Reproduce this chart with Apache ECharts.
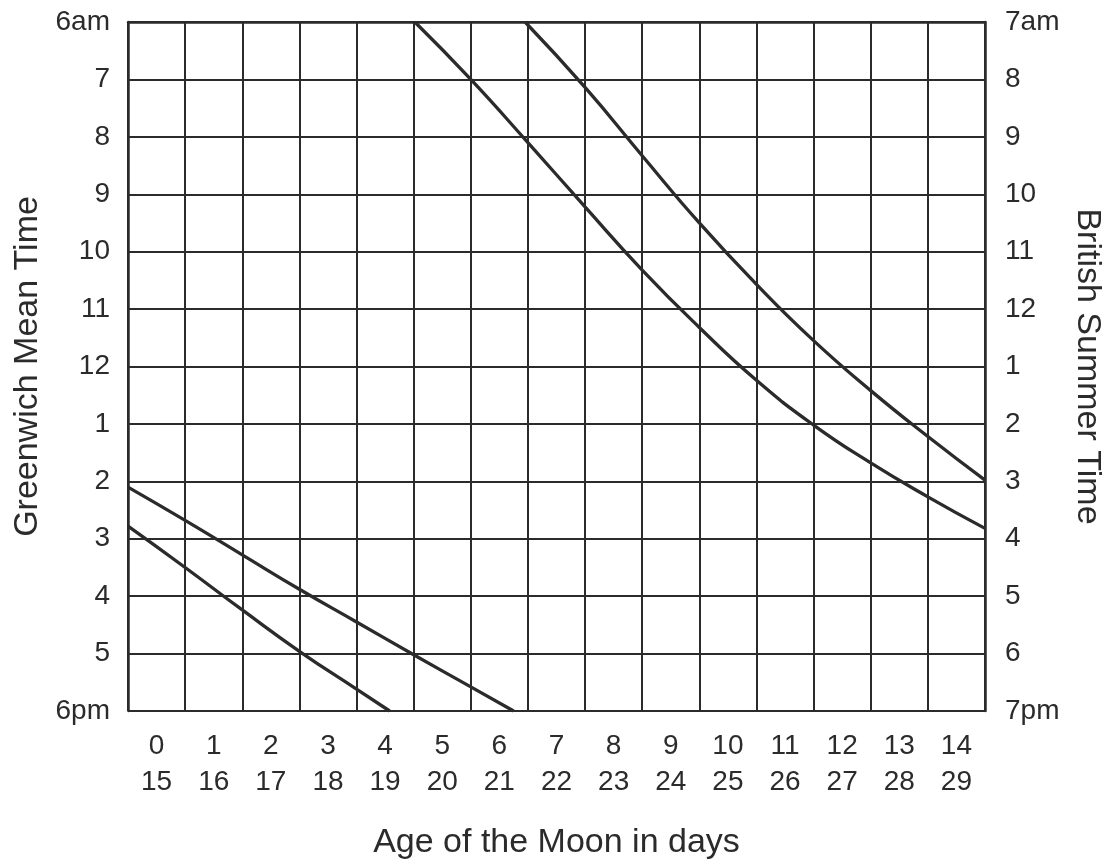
<!DOCTYPE html>
<html>
<head>
<meta charset="utf-8">
<title>Age of the Moon</title>
<script src="https://cdn.jsdelivr.net/npm/echarts@6/dist/echarts.min.js"></script>
<style>
    html, body { margin: 0; padding: 0; background: #fff; }
    #chart { width: 1106px; height: 868px; }
</style>
</head>
<body>
<div id="chart"></div>
<script>
// day labels, two rows (0-14 over 15-29)
var dayTop = ['0', '1', '2', '3', '4', '5', '6', '7', '8', '9', '10', '11', '12', '13', '14'];
var dayBottom = ['15', '16', '17', '18', '19', '20', '21', '22', '23', '24', '25', '26', '27', '28', '29'];

// hours counted from 6am GMT (0) down to 6pm (12)
var gmtLabels = ['6am', '7', '8', '9', '10', '11', '12', '1', '2', '3', '4', '5', '6pm'];
var bstLabels = ['7am', '8', '9', '10', '11', '12', '1', '2', '3', '4', '5', '6', '7pm'];

// [day, hours after 6am]
var curveA = [[5.02, 0], [6, 1.0], [7, 2.1], [8, 3.22], [9, 4.32], [10, 5.32], [11, 6.24], [12, 7.02], [13, 7.68], [14, 8.27], [15, 8.82]];
var curveB = [[6.95, 0], [8, 1.14], [9, 2.33], [10, 3.5], [11, 4.57], [12, 5.55], [13, 6.42], [14, 7.22], [15, 7.98]];
var curveC = [[0, 8.1], [1, 8.68], [2, 9.28], [3, 9.88], [4, 10.45], [5, 11.02], [6, 11.58], [6.75, 12]];
var curveD = [[0, 8.78], [1, 9.5], [2, 10.24], [3, 10.96], [4, 11.62], [4.58, 12]];

var ink = '#2b2b2b';
var font = 'Liberation Sans';

var myChart = echarts.init(document.getElementById('chart'));

function curve(data) {
    return {
        type: 'line',
        xAxisIndex: 0,
        yAxisIndex: 0,
        data: data,
        smooth: 0.5,
        showSymbol: false,
        silent: true,
        lineStyle: { color: ink, width: 3.3 }
    };
}

var option = {
    backgroundColor: '#fff',
    animation: false,
    grid: { left: 128, right: 121, top: 22, bottom: 157, outerBoundsMode: 'none', containLabel: false },
    xAxis: [
        {
            type: 'value',
            min: 0,
            max: 15,
            interval: 1,
            position: 'bottom',
            axisLine: { show: true, lineStyle: { color: ink, width: 2.5 } },
            axisTick: { show: false },
            axisLabel: { show: false },
            splitLine: { show: true, lineStyle: { color: ink, width: 2 } }
        },
        {
            type: 'category',
            data: dayTop,
            boundaryGap: true,
            position: 'bottom',
            axisLine: { show: false },
            axisTick: { show: false },
            splitLine: { show: false },
            axisLabel: {
                margin: 17,
                fontFamily: font,
                fontSize: 28,
                lineHeight: 36,
                color: ink,
                formatter: function (v, i) {
                    return dayTop[i] + '\n' + dayBottom[i];
                }
            },
            name: 'Age of the Moon in days',
            nameLocation: 'middle',
            nameGap: 115,
            nameTextStyle: { fontFamily: font, fontSize: 34, color: ink }
        }
    ],
    yAxis: [
        {
            type: 'value',
            min: 0,
            max: 12,
            interval: 1,
            inverse: true,
            position: 'left',
            axisLine: { show: true, lineStyle: { color: ink, width: 2.5 } },
            axisTick: { show: false },
            splitLine: { show: true, lineStyle: { color: ink, width: 2 } },
            axisLabel: {
                margin: 18,
                fontFamily: font,
                fontSize: 28,
                color: ink,
                formatter: function (v) { return gmtLabels[v]; }
            },
            name: 'Greenwich Mean Time',
            nameLocation: 'middle',
            nameRotate: 90,
            nameGap: 82,
            nameTextStyle: { fontFamily: font, fontSize: 34, color: ink }
        },
        {
            type: 'value',
            min: 0,
            max: 12,
            interval: 1,
            inverse: true,
            position: 'right',
            axisLine: { show: true, lineStyle: { color: ink, width: 2.5 } },
            axisTick: { show: false },
            splitLine: { show: false },
            axisLabel: {
                margin: 20,
                fontFamily: font,
                fontSize: 28,
                color: ink,
                formatter: function (v) { return bstLabels[v]; }
            },
            name: 'British Summer Time',
            nameLocation: 'middle',
            nameRotate: -90,
            nameGap: 74,
            nameTextStyle: { fontFamily: font, fontSize: 34, color: ink }
        }
    ],
    series: [curve(curveA), curve(curveB), curve(curveC), curve(curveD)]
};

myChart.setOption(option);
</script>
</body>
</html>
